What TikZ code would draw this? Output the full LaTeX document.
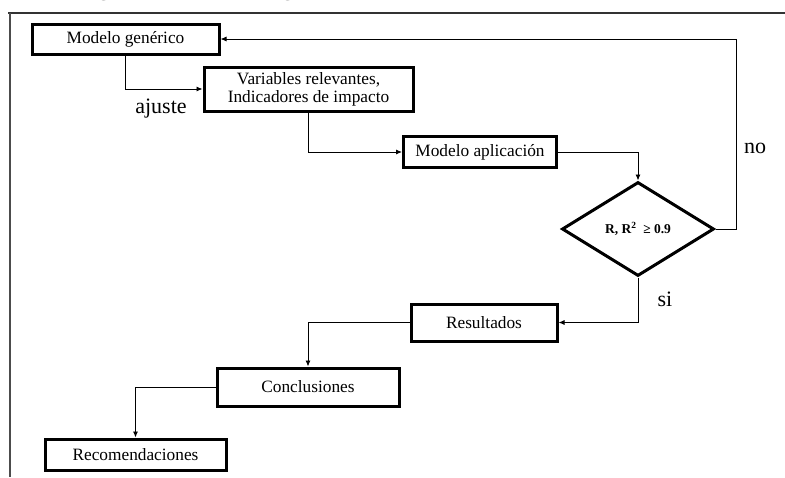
\documentclass[tikz,border=0pt]{standalone}
\usepackage{fontspec}
\setmainfont{Liberation Serif}
\usetikzlibrary{shapes.geometric,arrows.meta}
\tikzset{
  box/.style={draw, line width=3pt, rectangle, inner sep=0pt, align=center, font=\fontsize{17.3}{19}\selectfont},
  dec/.style={draw, line width=3pt, diamond, inner sep=0pt, minimum width=152pt, minimum height=94pt, font=\fontsize{13.5}{15}\selectfont\bfseries},
  conn/.style={line width=0.9pt, -{Latex[length=6pt,width=5pt]}},
  lbl/.style={font=\fontsize{22}{24}\selectfont, inner sep=0pt}
}
\begin{document}
\begin{tikzpicture}[x=1pt,y=-1pt]
\useasboundingbox (0,0) rectangle (785,477);
% cut-off caption glyphs
\node[font=\fontsize{24}{26}\selectfont, anchor=base, inner sep=0pt] (g1) at (104,-4.5) {g};
\node[font=\fontsize{24}{26}\selectfont, anchor=base, inner sep=0pt] (g2) at (288,-4.5) {g};
% frame
\draw[line width=1.6pt, black!80] (8,13) -- (785,13);
\draw[line width=2pt, black!70] (10,13) -- (10,477);
% nodes
\node[box, minimum width=187pt, minimum height=30pt] (gen) at (125.5,39) {Modelo genérico};
\node[box, minimum width=209pt, minimum height=44pt] (var) at (308.5,89) {Variables relevantes,\\[-1pt]Indicadores de impacto};
\node[box, minimum width=153pt, minimum height=31pt] (apl) at (480,152) {Modelo aplicación};
\node[dec] (dia) at (638,229) {R, R\textsuperscript{2}\enspace ≥ 0.9};
\node[box, minimum width=146pt, minimum height=37pt] (res) at (484,322.5) {Resultados};
\node[box, minimum width=182pt, minimum height=38pt] (con) at (308,387) {Conclusiones};
\node[box, minimum width=181pt, minimum height=31pt] (rec) at (135.5,454.5) {Recomendaciones};
\coordinate (nk) at (736,39);
% connectors
\draw[conn] (gen.south) |- (var.west);
\draw[conn] (var.south) |- (apl.west);
\draw[conn] (apl.east) -| (dia.north);
\draw[conn] (dia.east) -| (nk) -- (gen.east);
\draw[conn] (dia.south) |- (res.east);
\draw[conn] (res.west) -| (con.north);
\draw[conn] (con.west) -| (rec.north);
% labels
\node[lbl] (aj) at (161,109) {ajuste};
\node[lbl] (no) at (755,148) {no};
\node[lbl] (si) at (665,299) {si};
\end{tikzpicture}
\end{document}
